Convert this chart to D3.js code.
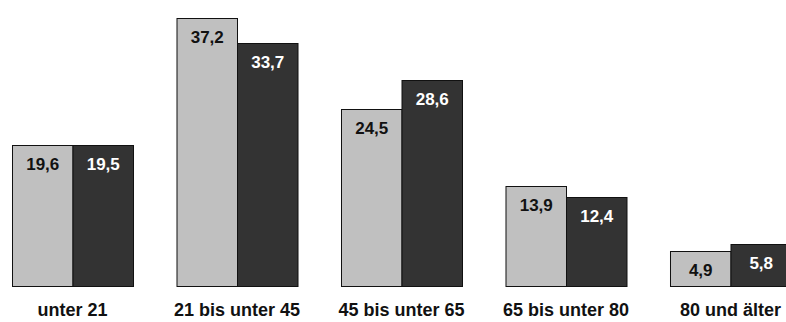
<!DOCTYPE html>
<html>
<head>
<meta charset="utf-8">
<script src="https://cdn.jsdelivr.net/npm/d3@7/dist/d3.min.js"></script>
<style>
  html, body { margin: 0; padding: 0; background: #fff; }
  svg { display: block; }
</style>
</head>
<body>
<script>
// Age groups and the two series shown side by side
const categories = ["unter 21", "21 bis unter 45", "45 bis unter 65", "65 bis unter 80", "80 und älter"];
const seriesA = [19.6, 37.2, 24.5, 13.9, 4.9];
const seriesB = [19.5, 33.7, 28.6, 12.4, 5.8];
const seriesKeys = ["a", "b"];

const fmt = v => d3.format(".1f")(v).replace(".", ",");

const W = 786, H = 322;
const baseline = 286;

const svg = d3.select("body").append("svg")
  .attr("width", W).attr("height", H);

const x0 = d3.scaleBand()
  .domain(categories)
  .range([12, 791])
  .paddingInner(0.2644)
  .paddingOuter(0);

const x1 = d3.scaleBand()
  .domain(seriesKeys)
  .range([0, x0.bandwidth()])
  .padding(0);

const y = d3.scaleLinear()
  .domain([0, 40])
  .range([baseline, baseline - 288.4]);

const fill = { a: "#c0c0c0", b: "#333333" };
const textFill = { a: "#111", b: "#fff" };

const rows = categories.map((c, i) => ({
  cat: c,
  vals: [{ key: "a", v: seriesA[i] }, { key: "b", v: seriesB[i] }]
}));

const g = svg.selectAll("g.grp")
  .data(rows)
  .join("g")
  .attr("class", "grp")
  .attr("transform", d => `translate(${x0(d.cat)},0)`);

g.selectAll("rect")
  .data(d => d.vals)
  .join("rect")
  .attr("x", d => x1(d.key) + 0.5)
  .attr("y", d => Math.round(y(d.v)) + 0.5)
  .attr("width", x1.bandwidth())
  .attr("height", d => baseline - Math.round(y(d.v)))
  .attr("fill", d => fill[d.key])
  .attr("stroke", "#111")
  .attr("stroke-width", 1);

g.selectAll("text.val")
  .data(d => d.vals)
  .join("text")
  .attr("class", "val")
  .attr("x", d => x1(d.key) + x1.bandwidth() / 2 + 0.5)
  .attr("y", d => y(d.v) + 25)
  .attr("text-anchor", "middle")
  .attr("font-family", "'Liberation Sans', Arial, sans-serif")
  .attr("font-weight", "bold")
  .attr("font-size", 17)
  .attr("fill", d => textFill[d.key])
  .text(d => fmt(d.v));

// Category labels under each pair of bars
svg.selectAll("text.cat")
  .data(categories)
  .join("text")
  .attr("class", "cat")
  .attr("x", d => x0(d) + x0.bandwidth() / 2)
  .attr("y", 316)
  .attr("text-anchor", "middle")
  .attr("font-family", "'Liberation Sans', Arial, sans-serif")
  .attr("font-weight", "bold")
  .attr("font-size", 18)
  .attr("fill", "#111")
  .text(d => d);
</script>
</body>
</html>
